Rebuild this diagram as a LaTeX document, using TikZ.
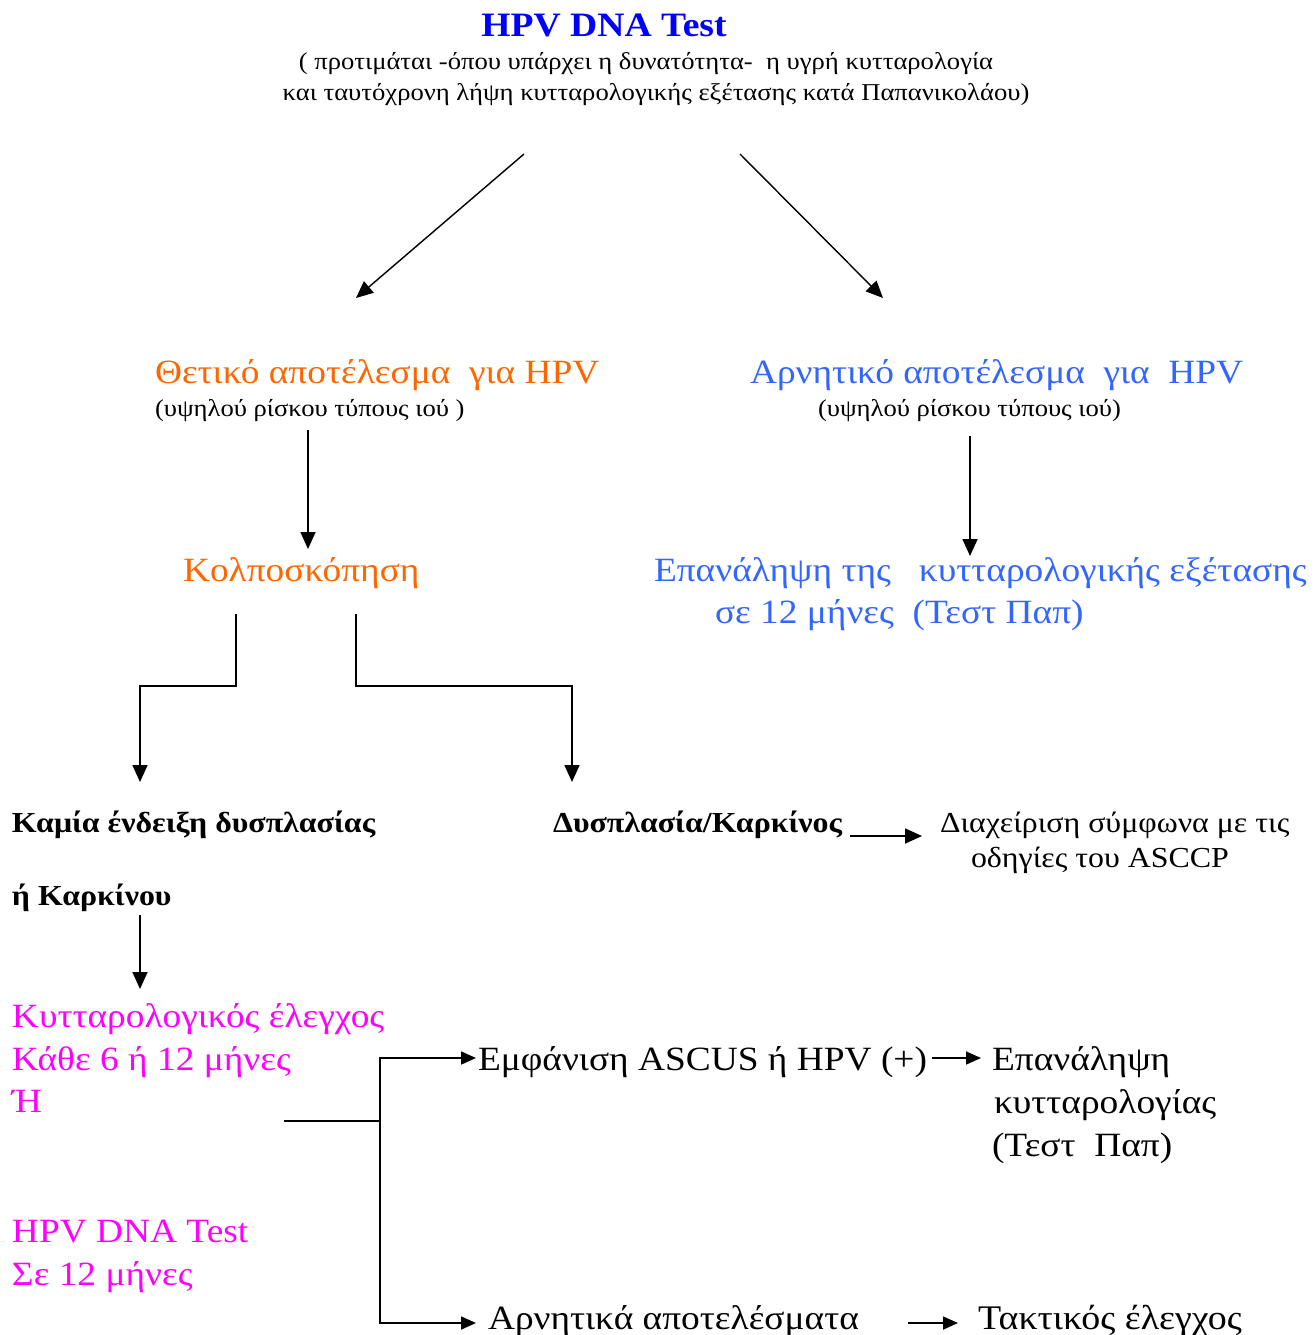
\documentclass[tikz,border=0pt]{standalone}
\usepackage{fontspec}
\setmainfont{Liberation Serif}[FakeStretch=1.1]
\usetikzlibrary{arrows.meta}
\definecolor{tblue}{HTML}{0000FF}
\definecolor{torange}{HTML}{FF6600}
\definecolor{rblue}{HTML}{3366FF}
\definecolor{tmag}{HTML}{FF00FF}
\newcommand{\fs}[1]{\fontsize{#1}{#1}\selectfont}
\begin{document}
\begin{tikzpicture}[x=1pt,y=-1pt,
  lbl/.style={anchor=base west,inner sep=0pt,outer sep=0pt},
  clbl/.style={anchor=base,inner sep=0pt,outer sep=0pt},
  arr/.style={-{Triangle[length=17pt,width=15pt]},line width=1.7pt},
  sarr/.style={-{Triangle[length=15pt,width=13pt]},line width=1.7pt},
  darr/.style={-{Triangle[length=17pt,width=15pt]},line width=1.4pt},
  ln/.style={line width=1.7pt}]
\useasboundingbox (0,0) rectangle (1316,1335);
% title
\node[clbl,font=\fs{34.2}\bfseries,text=tblue] (title) at (604,37) {HPV DNA Test};
\node[clbl,font=\fs{24.2}] (sub1) at (646,70) {( προτιμάται -όπου υπάρχει η δυνατότητα-~ η υγρή κυτταρολογία};
\node[clbl,font=\fs{24.2}] (sub2) at (656,101) {και ταυτόχρονη λήψη κυτταρολογικής εξέτασης κατά Παπανικολάου)};
% positive / negative
\node[lbl,font=\fs{34},text=torange] (pos) at (155,383) {Θετικό αποτέλεσμα~ για HPV};
\node[lbl,font=\fs{24.2}] (pos2) at (155,416) {(υψηλού ρίσκου τύπους ιού )};
\node[lbl,font=\fs{34},text=rblue] (neg) at (750,383) {Αρνητικό αποτέλεσμα~ για~ HPV};
\node[lbl,font=\fs{24.2}] (neg2) at (818,416) {(υψηλού ρίσκου τύπους ιού)};
\node[lbl,font=\fs{34},text=torange] (kolp) at (183,581) {Κολποσκόπηση};
\node[lbl,font=\fs{34},text=rblue] (rep1) at (654,581) {Επανάληψη της~~ κυτταρολογικής εξέτασης};
\node[lbl,font=\fs{34},text=rblue] (rep2) at (715,623) {σε 12 μήνες~ (Τεστ Παπ)};
% dysplasia row
\node[lbl,font=\fs{29}\bfseries] (none1) at (12,832) {Καμία ένδειξη δυσπλασίας};
\node[lbl,font=\fs{29}\bfseries] (none2) at (12,905) {ή Καρκίνου};
\node[lbl,font=\fs{29}\bfseries] (dys) at (553,832) {Δυσπλασία/Καρκίνος};
\node[lbl,font=\fs{29}] (man1) at (940,832) {Διαχείριση σύμφωνα με τις};
\node[lbl,font=\fs{29}] (man2) at (971,867) {οδηγίες του ASCCP};
% magenta block
\node[lbl,font=\fs{34},text=tmag] (m1) at (12,1027) {Κυτταρολογικός έλεγχος};
\node[lbl,font=\fs{34},text=tmag] (m2) at (12,1070) {Κάθε 6 ή 12 μήνες};
\node[lbl,font=\fs{34},text=tmag] (m3) at (12,1112) {Ή};
\node[lbl,font=\fs{34},text=tmag] (m4) at (12,1242) {HPV DNA Test};
\node[lbl,font=\fs{34},text=tmag] (m5) at (12,1285) {Σε 12 μήνες};
% bottom right
\node[lbl,font=\fs{34}] (asc) at (478,1070) {Εμφάνιση ASCUS ή HPV (+)};
\node[lbl,font=\fs{34}] (ep1) at (992,1070) {Επανάληψη};
\node[lbl,font=\fs{34}] (ep2) at (994,1113) {κυτταρολογίας};
\node[lbl,font=\fs{34}] (ep3) at (992,1156) {(Τεστ~ Παπ)};
\node[lbl,font=\fs{34}] (negr) at (488,1329) {Αρνητικά αποτελέσματα};
\node[lbl,font=\fs{34.5}] (tak) at (978,1329) {Τακτικός έλεγχος};
% connector coordinates
\coordinate (a1s) at (524,154); \coordinate (a1e) at (356,298);
\coordinate (a2s) at (740,154); \coordinate (a2e) at (883,298);
\coordinate (a3s) at (308,430); \coordinate (a3e) at (308,549);
\coordinate (a4s) at (970,436); \coordinate (a4e) at (970,556);
\coordinate (k1s) at (236,614); \coordinate (k1e) at (140,782);
\coordinate (k2s) at (356,614); \coordinate (k2e) at (572,782);
\coordinate (kb) at (0,686);
\coordinate (d1s) at (850,836); \coordinate (d1e) at (922,836);
\coordinate (n1s) at (140,915); \coordinate (n1e) at (140,989);
\coordinate (bs) at (284,1121); \coordinate (bj) at (380,1121);
\coordinate (bt) at (380,1058); \coordinate (bb) at (380,1323);
\coordinate (bte) at (476,1058); \coordinate (bbe) at (476,1323);
\coordinate (c1s) at (932,1058); \coordinate (c1e) at (981,1058);
\coordinate (c2s) at (908,1323); \coordinate (c2e) at (958,1323);
\draw[darr] (a1s) -- (a1e);
\draw[darr] (a2s) -- (a2e);
\draw[arr] (a3s) -- (a3e);
\draw[arr] (a4s) -- (a4e);
\draw[arr] (k1s) |- (kb -| k1e) -- (k1e);
\draw[arr] (k2s) |- (kb -| k2e) -- (k2e);
\draw[arr] (d1s) -- (d1e);
\draw[arr] (n1s) -- (n1e);
\draw[ln] (bs) -- (bj);
\draw[sarr] (bj) -- (bt) -- (bte);
\draw[sarr] (bj) -- (bb) -- (bbe);
\draw[sarr] (c1s) -- (c1e);
\draw[sarr] (c2s) -- (c2e);
\end{tikzpicture}
\end{document}
